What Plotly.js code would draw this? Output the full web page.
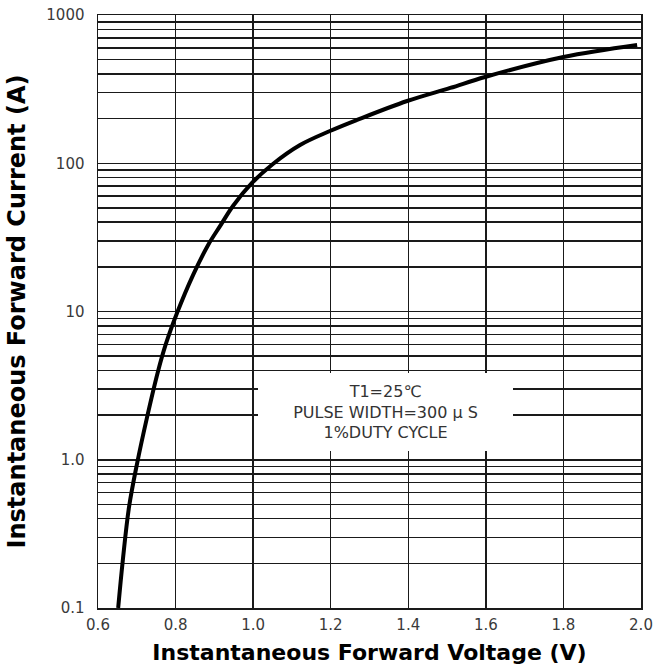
<!DOCTYPE html>
<html>
<head>
<meta charset="utf-8">
<script src="https://cdn.plot.ly/plotly-3.0.1.min.js"></script>
<style>
html,body{margin:0;padding:0;background:#fff;}
#chart{width:655px;height:669px;}
</style>
</head>
<body>
<div id="chart"></div>
<script>
// Forward voltage (V) vs instantaneous forward current (A)
const voltage = [0.652, 0.664, 0.680, 0.701, 0.726, 0.755, 0.775, 0.804, 0.845, 0.884, 0.915, 0.948, 0.997, 1.051, 1.121, 1.198, 1.268, 1.397, 1.508, 1.598, 1.800, 1.990];
const current = [0.1, 0.21, 0.48, 0.95, 1.91, 3.97, 6.04, 9.8, 17.6, 28.1, 37.8, 51.5, 73.6, 98.9, 132.8, 165, 196, 263, 322, 382, 521, 628];

const xTickVals = [0.6, 0.8, 1.0, 1.2, 1.4, 1.6, 1.8, 2.0];
const xTickText = ["0.6", "0.8", "1.0", "1.2", "1.4", "1.6", "1.8", "2.0"];

const yDecades = [0.1, 1, 10, 100];
const yDecadeLabels = ["0.1", "1.0", "10", "100"];
const yTopValue = 1000;
const yTopLabel = "1000";
const yMultipliers = [1, 2, 3, 4, 5, 6, 7, 8, 9];

const noteLines = ["T1=25\u2103", "PULSE WIDTH=300 \u03bc S", "1%DUTY CYCLE"];

const yTickVals = [];
const yTickText = [];
yDecades.forEach((d, i) => {
  yMultipliers.forEach(m => {
    yTickVals.push(+(d * m).toPrecision(3));
    yTickText.push(m === 1 ? yDecadeLabels[i] : "");
  });
});
yTickVals.push(yTopValue);
yTickText.push(yTopLabel);

const FONT = "DejaVu Sans, Liberation Sans, Arial, sans-serif";
const gridColor = "#1a1a1a";

const trace = {
  x: voltage,
  y: current,
  type: "scatter",
  mode: "lines",
  line: {color: "#000", width: 4, shape: "spline", smoothing: 1},
  hoverinfo: "skip"
};

const layout = {
  width: 655,
  height: 669,
  margin: {l: 98, r: 14, t: 15, b: 61, pad: 0},
  paper_bgcolor: "#fff",
  plot_bgcolor: "#fff",
  showlegend: false,
  font: {family: FONT, color: "#333"},
  xaxis: {
    range: [0.6, 2.0],
    tickmode: "array",
    tickvals: xTickVals,
    ticktext: xTickText,
    ticks: "",
    ticklabelstandoff: 2,
    tickfont: {family: FONT, size: 15, color: "#3a3a3a"},
    showgrid: true,
    gridcolor: gridColor,
    gridwidth: 1.5,
    zeroline: false,
    showline: true,
    linecolor: "#1a1a1a",
    linewidth: 1.5,
    mirror: true,
    automargin: false,
    title: {text: "Instantaneous Forward Voltage (V)", font: {family: FONT, size: 22, color: "#000", weight: "bold"}, standoff: 12}
  },
  yaxis: {
    type: "log",
    range: [-1, 3],
    tickmode: "array",
    tickvals: yTickVals,
    ticktext: yTickText,
    ticks: "",
    ticklabelstandoff: 9,
    tickfont: {family: FONT, size: 15, color: "#3a3a3a"},
    showgrid: true,
    gridcolor: gridColor,
    gridwidth: 1.5,
    zeroline: false,
    showline: true,
    linecolor: "#1a1a1a",
    linewidth: 1.5,
    mirror: true,
    automargin: false,
    title: {text: "Instantaneous Forward Current (A)", font: {family: FONT, size: 24, color: "#000", weight: "bold"}, standoff: 14}
  },
  annotations: [{
    xref: "paper", yref: "paper",
    x: 0.529, y: 0.33,
    xanchor: "center", yanchor: "middle",
    text: noteLines.join("<br>"),
    showarrow: false,
    bgcolor: "#fff",
    width: 255,
    height: 78,
    borderpad: 0,
    borderwidth: 0,
    align: "center",
    font: {family: FONT, size: 16, color: "#333"}
  }]
};

Plotly.newPlot("chart", [trace], layout, {displayModeBar: false, staticPlot: true});
</script>
</body>
</html>
